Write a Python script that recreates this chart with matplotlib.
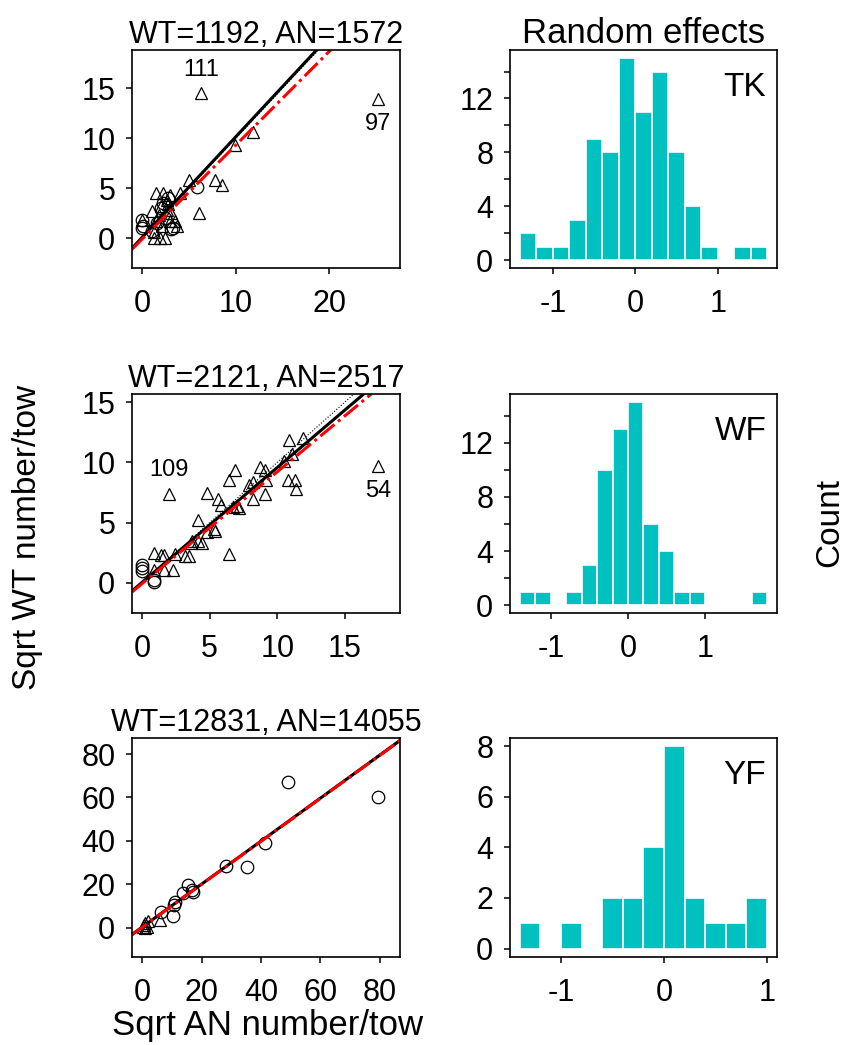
import numpy as np
import matplotlib
matplotlib.use('Agg')
from matplotlib import pyplot as plt

plt.rcParams['font.family'] = ['Liberation Sans', 'DejaVu Sans']

# --- scatter data: sqrt AN (x) vs sqrt WT (y) ---
tk_tri_x = [6.3, 25.2, 11.8, 9.9, 7.8, 8.5, 6.1, 5.0, 1.5, 2.2, 3.0, 4.0, 1.0, 0.0,
            1.2, 1.9, 2.4, 2.6, 3.1, 1.5, 2.1, 3.7, 3.5, 1.8, 2.6, 3.0, 2.0, 2.8, 1.3]
tk_tri_y = [14.5, 13.9, 10.6, 9.3, 5.8, 5.3, 2.5, 5.8, 4.5, 4.5, 4.3, 4.5, 2.7, 1.8,
            0.0, 0.0, 0.0, 2.8, 2.5, 1.7, 1.2, 1.2, 1.7, 2.3, 3.8, 1.7, 3.2, 3.4, 0.6]
tk_circ_x = [5.9, 2.2, 3.3, 1.0, 0.1, 0.0, 0.0, 3.1, 2.8, 2.4, 1.6, 2.0]
tk_circ_y = [5.1, 3.5, 1.0, 0.7, 1.2, 1.8, 1.0, 0.9, 4.0, 2.0, 1.5, 3.0]

wf_tri_x = [2.0, 17.5, 10.9, 11.9, 6.9, 6.4, 4.8, 5.6, 5.8, 4.1, 8.7, 9.1, 7.9, 8.2,
            9.2, 8.2, 9.1, 10.8, 11.3, 11.4, 10.5, 11.1, 7.0, 7.2, 6.7, 5.4, 5.3, 4.8,
            4.15, 3.7, 4.4, 3.6, 6.4, 3.2, 3.5, 2.4, 1.6, 0.9, 1.4, 2.3, 1.6, 0.9]
wf_tri_y = [7.4, 9.7, 11.9, 12.05, 9.4, 8.5, 7.5, 7.0, 6.5, 5.2, 9.6, 9.4, 8.1, 8.4,
            8.5, 7.0, 7.4, 8.5, 8.5, 7.8, 10.1, 10.7, 6.4, 6.2, 6.3, 4.3, 4.5, 4.2,
            3.5, 3.5, 3.3, 3.3, 2.4, 2.2, 2.2, 2.4, 2.3, 2.5, 2.3, 1.05, 1.05, 1.05]
wf_circ_x = [0.0, 0.0, 0.0, 0.87, 0.85]
wf_circ_y = [1.5, 1.0, 1.2, 0.03, 0.2]

yf_tri_x = [0.5, 1.0, 1.5, 6.1, 0.3, 1.0, 2.0]
yf_tri_y = [1.0, 2.0, 0.5, 3.5, 0.2, 0.0, 3.0]
yf_circ_x = [49.2, 79.3, 41.3, 28.2, 35.1, 15.5, 16.6, 16.9, 13.6, 11.0, 10.5, 10.4, 6.2]
yf_circ_y = [67.0, 60.4, 39.2, 28.6, 28.1, 19.7, 17.4, 16.6, 15.9, 12.0, 10.3, 5.5, 7.4]

# fitted lines: (intercept, slope) for solid black and red dot-dash
fit_black = [(0.08, 1.007), (0.045, 0.953), (0.3, 0.99)]
fit_red = [(-0.09, 0.94), (-0.06, 0.928), (0.2, 0.99)]

# labelled outliers: (label, x, y, above?)
tk_labels = [('111', 6.3, 14.5, True), ('97', 25.2, 13.9, False)]
wf_labels = [('109', 2.0, 7.4, True), ('54', 17.5, 9.7, False)]
yf_labels = []

titles = ['WT=1192, AN=1572', 'WT=2121, AN=2517', 'WT=12831, AN=14055']
sc_xlim = [(-1.1, 27.56), (-0.76, 19.1), (-3.5, 86.8)]
sc_ylim = [(-3.03, 18.85), (-2.54, 15.69), (-13.4, 87.4)]
sc_xticks = [[0, 10, 20], [0, 5, 10, 15], [0, 20, 40, 60, 80]]
sc_yticks = [[0, 5, 10, 15], [0, 5, 10, 15], [0, 20, 40, 60, 80]]

# --- random effect histograms (bin width 0.2) ---
species = ['TK', 'WF', 'YF']
tk_counts = [2, 1, 1, 3, 9, 8, 15, 11, 14, 8, 4, 1, 0, 1, 1]
wf_counts = [1, 1, 0, 1, 3, 10, 13, 15, 6, 4, 1, 1, 0, 0, 0, 1]
yf_counts = [1, 0, 1, 0, 2, 2, 4, 8, 2, 1, 1, 2]
bin_start = [-1.4, -1.4, -1.4]
bin_width = 0.2
hist_yticks = [[0, 2, 4, 6, 8, 10, 12, 14], [0, 2, 4, 6, 8, 10, 12, 14], [0, 2, 4, 6, 8]]
hist_ylabels = [['0', '', '4', '', '8', '', '12', ''],
                ['0', '', '4', '', '8', '', '12', ''],
                ['0', '2', '4', '6', '8']]

tri_x = [tk_tri_x, wf_tri_x, yf_tri_x]
tri_y = [tk_tri_y, wf_tri_y, yf_tri_y]
circ_x = [tk_circ_x, wf_circ_x, yf_circ_x]
circ_y = [tk_circ_y, wf_circ_y, yf_circ_y]
point_labels = [tk_labels, wf_labels, yf_labels]
counts = [tk_counts, wf_counts, yf_counts]

fig = plt.figure(figsize=(8.5, 10.45), dpi=100)

rows_y = [(0.7433, 0.2089), (0.4131, 0.2099), (0.0845, 0.2093)]
tick_fs = 22

def style_axes(ax):
    for s in ax.spines.values():
        s.set_linewidth(1.2)
    ax.tick_params(direction='out', length=4, width=1.1, labelsize=tick_fs)
    ax.tick_params(axis='x', pad=11)
    ax.tick_params(axis='y', pad=8)

for i in range(3):
    y0, h = rows_y[i]
    ax = fig.add_axes([0.1553, y0, 0.3153, h])
    ax.plot(tri_x[i], tri_y[i], linestyle='none', marker='^', markersize=9,
            markerfacecolor='none', markeredgecolor='black', markeredgewidth=0.9)
    ax.plot(circ_x[i], circ_y[i], linestyle='none', marker='o', markersize=9,
            markerfacecolor='none', markeredgecolor='black', markeredgewidth=0.9)
    ax.axline((0, 0), slope=1, color='black', linewidth=0.8, linestyle=':')
    b, m = fit_black[i]
    ax.axline((0, b), slope=m, color='black', linewidth=2.2)
    b, m = fit_red[i]
    ax.axline((0, b), slope=m, color='red', linewidth=2.2, linestyle=(0, (6, 1.5, 1, 1.5)))
    for lab, px, py, above in point_labels[i]:
        ax.annotate(lab, (px, py), xytext=(0, 17 if above else -18),
                    textcoords='offset points', ha='center', va='center', fontsize=17)
    ax.set_xlim(sc_xlim[i])
    ax.set_ylim(sc_ylim[i])
    ax.set_xticks(sc_xticks[i])
    ax.set_yticks(sc_yticks[i])
    ax.set_title(titles[i], fontsize=22, pad=3)
    style_axes(ax)

for i in range(3):
    y0, h = rows_y[i]
    ax = fig.add_axes([0.6, y0, 0.3141, h])
    c = counts[i]
    left = bin_start[i] + bin_width * np.arange(len(c))
    ax.bar(left, c, width=bin_width, align='edge', color='#00C0C0',
           edgecolor='white', linewidth=1.2)
    lo = bin_start[i]
    hi = bin_start[i] + bin_width * len(c)
    span = hi - lo
    ax.set_xlim(lo - 0.04 * span, hi + 0.04 * span)
    ax.set_ylim(-0.04 * max(c), 1.04 * max(c))
    ax.set_xticks([-1, 0, 1])
    ax.set_xticklabels(['-1', '0', '1'])
    ax.set_yticks(hist_yticks[i])
    ax.set_yticklabels(hist_ylabels[i])
    ax.text(0.96, 0.9, species[i], transform=ax.transAxes, ha='right', va='top',
            fontsize=24)
    if i == 0:
        ax.set_title('Random effects', fontsize=25, pad=5)
    style_axes(ax)

fig.text(0.032, 0.486, 'Sqrt WT number/tow', rotation=90, ha='center', va='center', fontsize=24)
fig.text(0.976, 0.5, 'Count', rotation=90, ha='center', va='center', fontsize=24)
fig.text(0.315, 0.019, 'Sqrt AN number/tow', ha='center', va='center', fontsize=25)

fig.savefig('out.png', dpi=100)
